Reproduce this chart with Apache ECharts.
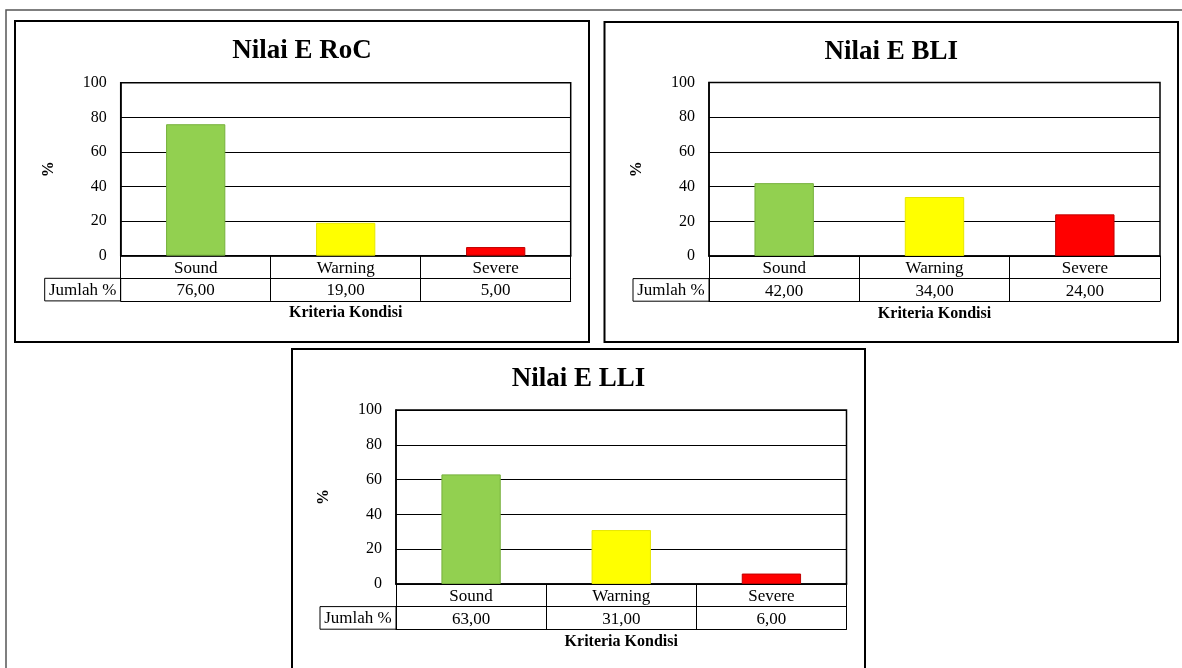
<!DOCTYPE html>
<html>
<head>
<meta charset="utf-8">
<title>Nilai E</title>
<script src="https://cdn.jsdelivr.net/npm/echarts@6/dist/echarts.min.js"></script>
<style>
  html, body { margin: 0; padding: 0; background: #fff; }
  #chart { width: 1182px; height: 668px; }
</style>
</head>
<body>
<div id="chart"></div>
<script>
// Condition criteria shared by all three charts
const categories = ['Sound', 'Warning', 'Severe'];

// Percentage of sections per condition criterion
const rocValues = [76, 19, 5];
const bliValues = [42, 34, 24];
const lliValues = [63, 31, 6];

const chartTitles = ['Nilai E RoC', 'Nilai E BLI', 'Nilai E LLI'];
const yTicks = [0, 20, 40, 60, 80, 100];
const tableRowLabel = 'Jumlah %';
const xAxisTitle = 'Kriteria Kondisi';
const yAxisTitle = '%';

// Bar fill / edge colours per criterion
const barColors = ['#92D050', '#FFFF00', '#FF0000'];
const barEdges = ['#76B03C', '#E6E600', '#C00000'];

const FONT = '"Liberation Serif", "Times New Roman", serif';

// Panel frames and plot areas
const panels = [
  { values: rocValues, box: { x: 15, y: 21, w: 574, h: 321 }, plot: { left: 120.7, top: 82.7, width: 450, height: 173 } },
  { values: bliValues, box: { x: 604.5, y: 22, w: 573.5, h: 320 }, plot: { left: 709, top: 82.5, width: 451, height: 173.5 } },
  { values: lliValues, box: { x: 292, y: 349, w: 573, h: 330 }, plot: { left: 396, top: 410, width: 450.5, height: 174 } }
];
const ROW_H = 22.6;
const HEAD_W = 76;

const fmt = v => v.toFixed(2).replace('.', ',');

const grids = [], xAxes = [], yAxes = [], series = [], graphics = [];

// outer frame
graphics.push({
  type: 'rect', silent: true, z: 0,
  shape: { x: 6, y: 10, width: 1200, height: 700 },
  style: { fill: 'none', stroke: '#555', lineWidth: 1.5 }
});

panels.forEach((p, i) => {
  const pl = p.plot;
  grids.push({
    left: pl.left, top: pl.top, width: pl.width, height: pl.height,
    containLabel: false, outerBoundsMode: 'none',
    show: true, borderColor: '#000', borderWidth: 1.5, backgroundColor: 'transparent'
  });

  // category row of the data table
  xAxes.push({
    type: 'category', gridIndex: i, position: 'bottom', data: categories,
    axisLine: { lineStyle: { color: '#000', width: 1.5 } },
    axisTick: { show: true, alignWithLabel: false, length: ROW_H * 2, lineStyle: { color: '#000', width: 1 } },
    axisLabel: { margin: 4, color: '#000', fontFamily: FONT, fontSize: 17 },
    splitLine: { show: false }
  });
  // value row of the data table
  xAxes.push({
    type: 'category', gridIndex: i, position: 'bottom', offset: ROW_H, data: categories,
    axisLine: { show: true, lineStyle: { color: '#000', width: 1 } },
    axisTick: { show: false },
    axisLabel: { margin: 4, color: '#000', fontFamily: FONT, fontSize: 17,
      formatter: (v, idx) => fmt(p.values[idx]) },
    name: xAxisTitle, nameLocation: 'middle', nameGap: 27,
    nameTextStyle: { color: '#000', fontFamily: FONT, fontSize: 16, fontWeight: 'bold' }
  });
  // bottom edge of the table
  xAxes.push({
    type: 'category', gridIndex: i, position: 'bottom', offset: ROW_H * 2, data: categories,
    axisLine: { show: true, lineStyle: { color: '#000', width: 1 } },
    axisTick: { show: false }, axisLabel: { show: false }
  });

  yAxes.push({
    type: 'value', gridIndex: i, min: yTicks[0], max: yTicks[yTicks.length - 1], interval: 20,
    axisLine: { show: true, lineStyle: { color: '#000', width: 1.5 } },
    axisTick: { show: false },
    axisLabel: { margin: 14, color: '#000', fontFamily: FONT, fontSize: 16, padding: [4, 0, 0, 0] },
    splitLine: { show: true, lineStyle: { color: '#000', width: 1 } },
    name: yAxisTitle, nameLocation: 'middle', nameRotate: 90, nameGap: 64,
    nameTextStyle: { color: '#000', fontFamily: FONT, fontSize: 16, fontWeight: 'bold' }
  });

  series.push({
    type: 'bar', xAxisIndex: i * 3, yAxisIndex: i, barWidth: '39.5%',
    data: p.values.map((v, k) => ({
      value: v,
      itemStyle: { color: barColors[k], borderColor: barEdges[k], borderWidth: 1 }
    })),
    silent: true
  });

  // panel frame
  graphics.push({
    type: 'rect', silent: true, z: 1,
    shape: { x: p.box.x, y: p.box.y, width: p.box.w, height: p.box.h },
    style: { fill: 'none', stroke: '#000', lineWidth: 2 }
  });
  // panel title
  graphics.push({
    type: 'text', silent: true, z: 1,
    x: p.box.x + p.box.w / 2, y: p.box.y + 30,
    style: { text: chartTitles[i], fill: '#000', font: 'bold 27px ' + FONT, align: 'center', verticalAlign: 'middle' }
  });
  // row header cell of the data table
  const hy = pl.top + pl.height + ROW_H;
  graphics.push({
    type: 'rect', silent: true, z: 1,
    shape: { x: pl.left - HEAD_W, y: hy, width: HEAD_W, height: ROW_H },
    style: { fill: 'none', stroke: '#000', lineWidth: 1 }
  });
  graphics.push({
    type: 'text', silent: true, z: 1,
    x: pl.left - HEAD_W / 2, y: hy + ROW_H / 2 + 1,
    style: { text: tableRowLabel, fill: '#000', font: '17px ' + FONT, align: 'center', verticalAlign: 'middle' }
  });
});

const chart = echarts.init(document.getElementById('chart'), null, { renderer: 'canvas' });
chart.setOption({
  backgroundColor: '#fff',
  animation: false,
  grid: grids,
  xAxis: xAxes,
  yAxis: yAxes,
  series: series,
  graphic: graphics
});
</script>
</body>
</html>
